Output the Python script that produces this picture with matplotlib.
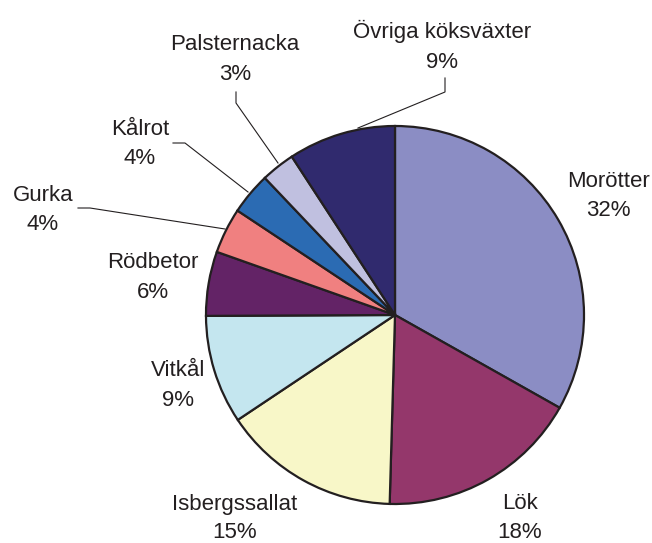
import matplotlib
matplotlib.use("Agg")
import matplotlib.pyplot as plt

categories = ["Morötter", "Lök", "Isbergssallat", "Vitkål", "Rödbetor",
              "Gurka", "Kålrot", "Palsternacka", "Övriga köksväxter"]
values = [33.2, 17.3, 15.2, 9.3, 5.5, 3.9, 3.6, 2.9, 9.2]
pct_labels = ["32%", "18%", "15%", "9%", "6%", "4%", "4%", "3%", "9%"]
colors = ["#8B8DC4", "#94376B", "#F8F7C8", "#C4E6EF", "#632366",
          "#F08080", "#2B6BB3", "#C0C0E0", "#302A6E"]

W, H = 652, 543
fig = plt.figure(figsize=(W / 100, H / 100), dpi=100)
ax = fig.add_axes([0, 0, 1, 1])

def Y(y):
    return H - y

cx, cy, r = 395, 315, 189
ax.pie(values, colors=colors, startangle=90, counterclock=False,
       center=(cx, Y(cy)), radius=r,
       wedgeprops=dict(edgecolor="#231F20", linewidth=1.6))
ax.set_xlim(0, W)
ax.set_ylim(0, H)
ax.set_aspect("equal")
ax.axis("off")

# label positions: (center x, baseline y of name line, line gap), px from top-left
label_pos = [(608.5, 187, 29.5), (520, 509, 28.5), (234.5, 510, 28.5),
             (178, 376, 29.5), (153, 268, 29.5), (43, 201, 29.5),
             (140, 135, 29.5), (235, 50, 29.5), (442, 38, 29.5)]
fs = 16
for name, pct, (x, y, gap) in zip(categories, pct_labels, label_pos):
    ax.text(x, Y(y), name, ha="center", va="baseline", fontsize=fs,
            family="Liberation Sans", color="#231F20")
    ax.text(x, Y(y + gap), pct, ha="center", va="baseline", fontsize=fs,
            family="Liberation Sans", color="#231F20")

# leader lines
leaders = [
    [(78, 208), (90, 208), (225, 229)],
    [(173, 143), (185, 143), (248, 192)],
    [(236, 92), (236, 103), (278, 163)],
    [(445, 78), (445, 92), (358, 128)],
]
for pts in leaders:
    xs = [p[0] for p in pts]
    ys = [Y(p[1]) for p in pts]
    ax.plot(xs, ys, color="#231F20", linewidth=0.8)

fig.savefig("out.png", dpi=100)
